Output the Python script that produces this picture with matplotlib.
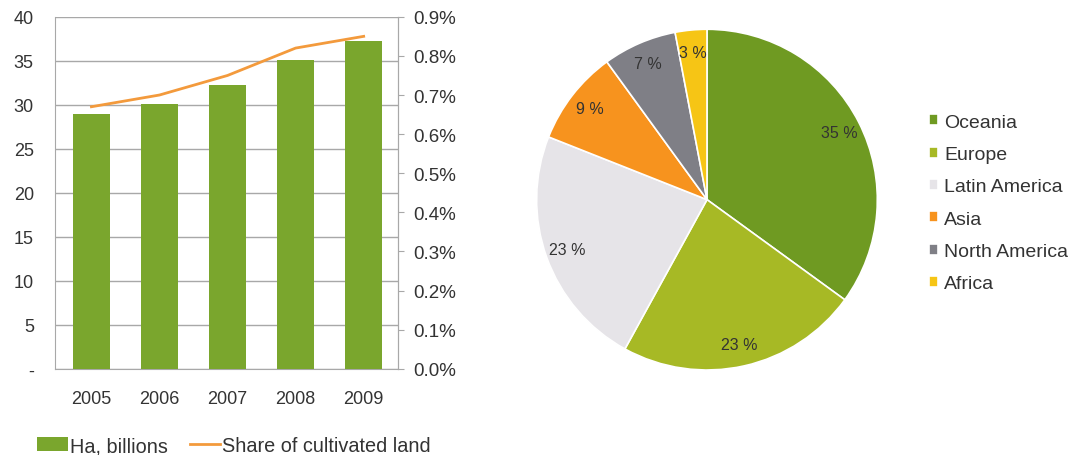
import matplotlib.pyplot as plt
from matplotlib.ticker import FuncFormatter

plt.rcParams['font.family'] = ['Liberation Sans', 'DejaVu Sans']

years = ['2005', '2006', '2007', '2008', '2009']
hectares = [29.0, 30.1, 32.2, 35.1, 37.2]
share = [0.67, 0.70, 0.75, 0.82, 0.85]

regions = ['Oceania', 'Europe', 'Latin America', 'Asia', 'North America', 'Africa']
region_share = [35, 23, 23, 9, 7, 3]
region_colors = ['#6f9a22', '#a7b925', '#e6e4e8', '#f7931e', '#7f7f86', '#f6c515']

bar_green = '#7aa62d'
line_orange = '#f39a3c'
grid_gray = '#a8a8a8'
text_col = '#333333'

fig = plt.figure(figsize=(10.72, 4.56), dpi=100)

ax = fig.add_axes([0.051, 0.189, 0.32, 0.772])
x = range(len(years))
ax.bar(x, hectares, width=0.545, color=bar_green, label='Ha, billions', zorder=3)
ax.set_ylim(0, 40)
ax.set_xlim(-0.54, 4.5)
ax.set_yticks(range(0, 41, 5))
ax.yaxis.set_major_formatter(FuncFormatter(lambda v, p: '-' if v == 0 else f'{int(v)}'))
ax.set_xticks(list(x))
ax.set_xticklabels(years)
ax.grid(axis='y', color=grid_gray, linewidth=1, zorder=0)
ax.spines['top'].set_visible(False)
for s in ['left', 'right', 'bottom']:
    ax.spines[s].set_color(grid_gray)
ax.tick_params(axis='y', length=0, labelsize=13, colors=text_col, pad=15)
ax.tick_params(axis='x', length=0, labelsize=13, colors=text_col, pad=15)

ax2 = ax.twinx()
ax2.plot(list(x), share, color=line_orange, linewidth=2, label='Share of cultivated land', zorder=4)
ax2.set_ylim(0, 0.9)
ax2.set_yticks([i / 10 for i in range(10)])
ax2.yaxis.set_major_formatter(FuncFormatter(lambda v, p: f'{v:.1f}%'))
for s in ['top', 'left', 'bottom']:
    ax2.spines[s].set_visible(False)
ax2.spines['right'].set_color(grid_gray)
ax2.tick_params(axis='y', length=4, color=grid_gray, labelsize=13.5, labelcolor=text_col, pad=7)

h1, l1 = ax.get_legend_handles_labels()
h2, l2 = ax2.get_legend_handles_labels()
fig.legend(h1 + h2, l1 + l2, loc='center left', bbox_to_anchor=(0.018, 0.02), ncol=2,
           frameon=False, fontsize=14.3, handlelength=1.55, handletextpad=0.1,
           columnspacing=1.1, labelcolor=text_col)

axp = fig.add_axes([0.499, 0.182, 0.321, 0.756])
wedges, texts, autotexts = axp.pie(
    region_share, colors=region_colors, startangle=90, counterclock=False,
    autopct=lambda p: f'{p:.0f} %', pctdistance=0.87,
    wedgeprops=dict(edgecolor='white', linewidth=1.2),
    textprops=dict(fontsize=11.5, color=text_col))
axp.set_aspect('equal')
axp.set_xlim(-1.01, 1.01)
axp.set_ylim(-1.01, 1.01)

fig.legend(wedges, regions, loc='upper left', bbox_to_anchor=(0.85, 0.787), frameon=False,
           fontsize=14, handlelength=0.5, handleheight=0.5, handletextpad=0.3,
           labelspacing=0.79, labelcolor=text_col)

fig.savefig('out.png', dpi=100)
